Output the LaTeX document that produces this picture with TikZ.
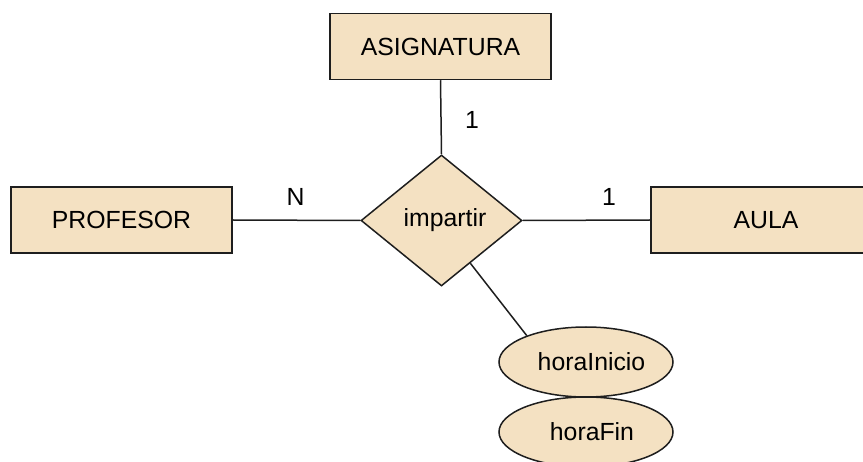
\documentclass[tikz,border=0pt]{standalone}
\usepackage{fontspec}
\setmainfont{Liberation Sans}
\usetikzlibrary{shapes.geometric}
\definecolor{erfill}{HTML}{F4E1C2}
\definecolor{erline}{HTML}{1E1E1E}
\begin{document}
\begin{tikzpicture}[x=1pt,y=-1pt,
  every node/.style={font=\fontsize{24.8}{29}\selectfont, text=black},
  entity/.style={draw=erline, fill=erfill, line width=1.5pt, rectangle, inner sep=0pt, minimum height=66pt},
  relation/.style={draw=erline, fill=erfill, line width=1.5pt, diamond, inner sep=0pt, minimum width=161pt, minimum height=131pt},
  attrib/.style={draw=erline, fill=erfill, line width=1.5pt, ellipse, inner sep=0pt, minimum width=174pt, minimum height=70pt},
  conn/.style={draw=erline, line width=1.5pt},
  card/.style={inner sep=0pt}]
\useasboundingbox (0,0) rectangle (863,462);
\clip (0,0) rectangle (863,462);
\node[entity, minimum width=221pt] (asig) at (440.5,46.5) {ASIGNATURA};
\node[entity, minimum width=221pt] (prof) at (121.5,220) {PROFESOR};
\node[entity, minimum width=230pt] (aula) at (766,220) {AULA};
\node[relation] (imp) at (441.5,220.5) {\hspace*{7pt}impartir};
\node[attrib] (hi) at (586,362) {\hspace*{11pt}horaInicio};
\node[attrib] (hf) at (586,432) {\hspace*{12pt}horaFin};
\draw[conn] (asig.south) -- (imp.north);
\draw[conn] (prof.east) -- (imp.west);
\draw[conn] (imp.east) -- (aula.west);
\draw[conn] (imp.-56) -- (hi.156);
\node[card] (c1) at (472,120) {1};
\node[card] (cn) at (295.5,197) {N};
\node[card] (c2) at (609,196.5) {1};
\end{tikzpicture}
\end{document}
